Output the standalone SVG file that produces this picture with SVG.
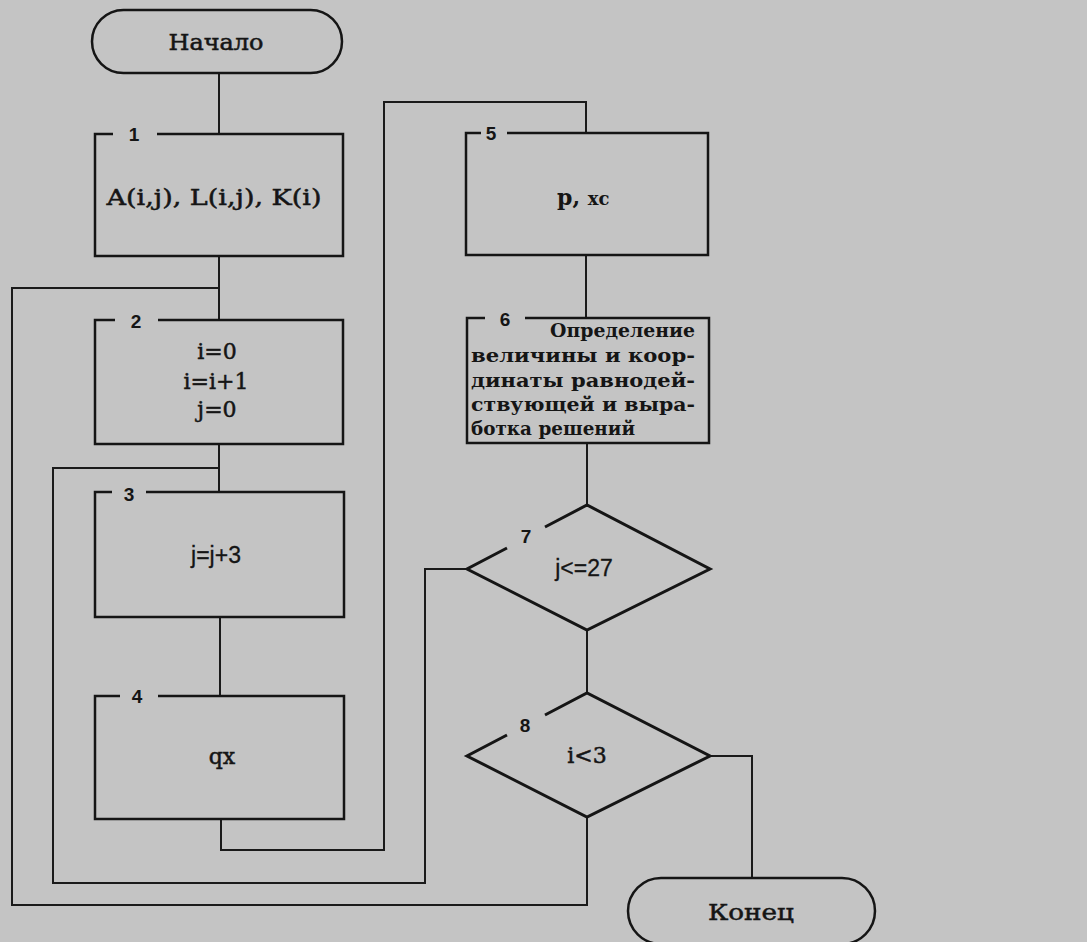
<svg xmlns="http://www.w3.org/2000/svg" width="1087" height="942" viewBox="0 0 1087 942">
<style>
.bg{fill:#c4c4c4}
.box{fill:none;stroke:#151515;stroke-width:2.5;stroke-linejoin:miter}
.dia{fill:none;stroke:#151515;stroke-width:3}
.term{fill:none;stroke:#151515;stroke-width:2.5}
.con{fill:none;stroke:#1a1a1a;stroke-width:2}
.num{font-family:"Liberation Sans",Arial,sans-serif;font-weight:bold;font-size:19px;fill:#151515;text-anchor:middle}
.ser{font-family:"DejaVu Serif","Liberation Serif",serif;font-size:22px;fill:#151515;stroke:#151515;stroke-width:0.5;text-anchor:middle}
.sans{font-family:"Liberation Sans",Arial,sans-serif;font-size:23px;fill:#151515;stroke:#151515;stroke-width:0.3;text-anchor:middle}
.b6{font-family:"DejaVu Serif","Liberation Serif",serif;font-weight:bold;font-size:18px;fill:#151515}
.pxc{font-family:"DejaVu Serif","Liberation Serif",serif;font-weight:bold;font-size:22px;fill:#151515}
</style>
<rect class="bg" x="0" y="0" width="1087" height="942"/>

<g id="connectors">
<path class="con" d="M219,73 V134"/>
<path class="con" d="M219,256 V320"/>
<path class="con" d="M219,444 V492"/>
<path class="con" d="M220,617 V696"/>
<path class="con" d="M221,819 V850 H384 V102 H586 V133"/>
<path class="con" d="M586,255 V318"/>
<path class="con" d="M587,443 V505"/>
<path class="con" d="M587,630 V693"/>
<path class="con" d="M467,569 H425 V883 H53 V468 H219"/>
<path class="con" d="M587,817 V905 H12 V288 H219"/>
<path class="con" d="M710,756 H752 V878"/>
</g>

<g id="start">
<rect class="term" x="92" y="10" width="250" height="63" rx="31.5" ry="31.5"/>
<text class="ser" x="216" y="50" font-size="24" textLength="95" lengthAdjust="spacingAndGlyphs">Начало</text>
</g>

<g id="box1">
<path class="box" d="M157,134 H343 V256 H95 V134 H113"/>
<text class="num" x="134" y="141">1</text>
<text class="ser" x="214" y="205" font-size="23" textLength="215" lengthAdjust="spacingAndGlyphs">A(i,j), L(i,j), K(i)</text>
</g>

<g id="box2">
<path class="box" d="M158,320 H343 V444 H95 V320 H115"/>
<text class="num" x="136" y="328">2</text>
<text class="ser" x="217" y="359">i=0</text>
<text class="ser" x="216" y="389">i=i+1</text>
<text class="ser" x="217" y="417">j=0</text>
</g>

<g id="box3">
<path class="box" d="M146,492 H344 V617 H95 V492 H112"/>
<text class="num" x="129" y="501">3</text>
<text class="sans" x="216" y="563">j=j+3</text>
</g>

<g id="box4">
<path class="box" d="M158,696 H344 V819 H95 V696 H120"/>
<text class="num" x="137" y="703">4</text>
<text class="ser" x="222" y="764">qx</text>
</g>

<g id="box5">
<path class="box" d="M507,133 H708 V255 H466 V133 H481"/>
<text class="num" x="491" y="140">5</text>
<text class="pxc" x="557" y="205">p, <tspan font-size="18">xc</tspan></text>
</g>

<g id="box6">
<path class="box" d="M525,318 H709 V443 H467 V318 H485"/>
<text class="num" x="505" y="326">6</text>
<text class="b6" x="550" y="337" textLength="145" lengthAdjust="spacingAndGlyphs">Определение</text>
<text class="b6" x="471" y="362" textLength="224" lengthAdjust="spacingAndGlyphs">величины и коор-</text>
<text class="b6" x="471" y="387" textLength="224" lengthAdjust="spacingAndGlyphs">динаты равнодей-</text>
<text class="b6" x="471" y="411" textLength="224" lengthAdjust="spacingAndGlyphs">ствующей и выра-</text>
<text class="b6" x="471" y="435" textLength="164" lengthAdjust="spacingAndGlyphs">ботка решений</text>
</g>

<g id="dec7">
<path class="dia" d="M545,527 L587,505 L710,569 L587,630 L467,569 L507,548"/>
<text class="num" x="526" y="543">7</text>
<text class="sans" x="584" y="576">j&lt;=27</text>
</g>

<g id="dec8">
<path class="dia" d="M545,715 L587,693 L710,756 L587,817 L467,756 L507,735"/>
<text class="num" x="525" y="732">8</text>
<text class="ser" x="587" y="763">i&lt;3</text>
</g>

<g id="end">
<rect class="term" x="628" y="878" width="247" height="66" rx="33" ry="33"/>
<text class="ser" x="751" y="920" font-size="24" textLength="86" lengthAdjust="spacingAndGlyphs">Конец</text>
</g>
</svg>
